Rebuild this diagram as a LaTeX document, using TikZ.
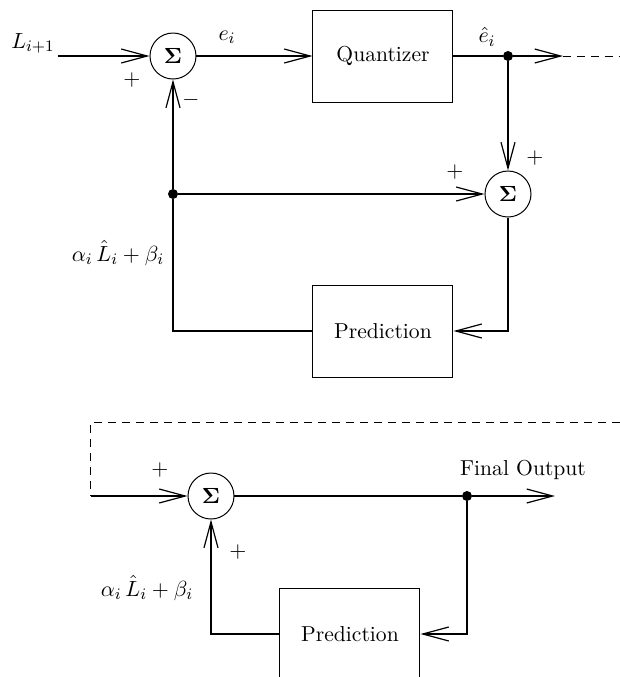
\documentclass[tikz,border=0pt]{standalone}
\usetikzlibrary{arrows.meta}
\begin{document}
\begin{tikzpicture}[x=0.5pt,y=-0.5pt,
  font=\fontsize{10.8}{13}\selectfont,
  sumnode/.style={circle,draw,line width=0.5pt,minimum size=23pt,inner sep=0pt},
  block/.style={draw,line width=0.5pt,minimum width=70pt,minimum height=46pt,inner sep=0pt},
  sig/.style={line width=0.8pt},
  arr/.style={sig,-{Straight Barb[length=13pt,width=7pt,line width=0.6pt]}},
  dsh/.style={line width=0.5pt,dash pattern=on 4pt off 3pt},
  jdot/.style={circle,fill,inner sep=0pt,minimum size=5pt},
  lbl/.style={inner sep=0pt}]
\useasboundingbox (0,0) rectangle (620,677);
\clip (0,0) rectangle (620,677);

% ---------- top diagram ----------
\node[lbl] (lin) at (33,43) {$L_{i+1}$};
\coordinate (in) at (58,56);
\node[sumnode] (s1) at (173,56) {$\mathbf{\Sigma}$};
\node[block] (q) at (383,56) {Quantizer};
\node[jdot] (d1) at (508,56) {};
\coordinate (o1) at (563,56);
\coordinate (oe) at (620,56);
\node[sumnode] (s2) at (508,194) {$\mathbf{\Sigma}$};
\node[jdot] (d2) at (173,194) {};
\node[block] (p1) at (383,331) {Prediction};

\node[lbl] (pl1) at (132,80) {$+$};
\node[lbl] (mi1) at (191,100) {$-$};
\node[lbl] (ei) at (227,37) {$e_i$};
\node[lbl] (ehat) at (487,37) {$\hat{e}_i$};
\node[lbl] (pl2) at (535,158) {$+$};
\node[lbl] (pl3) at (455,172) {$+$};
\node[lbl] (al1) at (118,253) {$\alpha_i\,\hat{L}_i+\beta_i$};

\draw[arr] (in) -- (s1);
\draw[arr] (s1) -- (q);
\draw[sig] (q) -- (d1);
\draw[arr] (d1) -- (o1);
\draw[dsh] (o1) -- (oe);
\draw[arr] (d1) -- (s2);
\draw[arr] (d2) -- (s2);
\draw[sig] (p1.west) -| (d2);
\draw[arr] (d2) -- (s1);
\draw[arr] (s2) |- (p1);

% ---------- bottom diagram ----------
\coordinate (oe2) at (620,422);
\coordinate (c3) at (91,422);
\coordinate (c4) at (91,496);
\node[sumnode] (s3) at (211,496) {$\mathbf{\Sigma}$};
\node[jdot] (d3) at (467,496) {};
\coordinate (o3) at (555,496);
\node[block] (p2) at (350,634) {Prediction};

\node[lbl] (pl4) at (160,470) {$+$};
\node[lbl] (pl5) at (238,552) {$+$};
\node[lbl] (fo) at (523,470) {Final Output};
\node[lbl] (al2) at (147,588) {$\alpha_i\,\hat{L}_i+\beta_i$};

\draw[dsh] (oe2) -- (c3) -- (c4);
\draw[arr] (c4) -- (s3);
\draw[sig] (s3) -- (d3);
\draw[arr] (d3) -- (o3);
\draw[arr] (d3) |- (p2);
\draw[arr] (p2) -| (s3);
\end{tikzpicture}
\end{document}
